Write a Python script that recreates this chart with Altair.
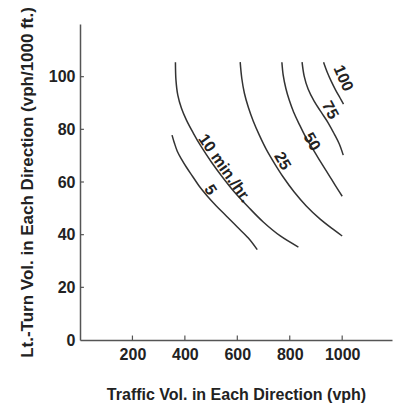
import altair as alt
import pandas as pd

# Curve values (traffic volume vph, left-turn volume vph/1000 ft)
c5_x = [351, 360, 371, 387, 406, 429, 455, 486, 520, 558, 600, 642, 676]
c5_y = [77.8, 74.8, 71.7, 68.7, 65.6, 62.2, 58.4, 54.6, 50.9, 47.1, 42.9, 38.7, 34.3]
c10_x = [364, 366, 373, 387, 406, 432, 463, 501, 543, 588, 642, 699, 764, 833]
c10_y = [105.5, 98.7, 93, 88, 83.5, 78.6, 73.3, 67.6, 61.9, 56.3, 50.5, 44.8, 39.5, 35.3]
c25_x = [611, 617, 627, 642, 661, 684, 710, 741, 775, 817, 863, 916, 970, 1000]
c25_y = [105.5, 99.4, 93.7, 88.4, 83.1, 77.8, 72.5, 67.2, 61.9, 56.2, 50.9, 45.9, 41.7, 39.5]
c50_x = [770, 775, 785, 798, 815, 836, 859, 886, 916, 947, 973, 1000]
c50_y = [105.5, 100.6, 95.6, 91.1, 86.5, 82, 77.4, 72.9, 67.9, 63, 58.8, 54.6]
c75_x = [847, 855, 870, 893, 920, 947, 970, 989, 1004]
c75_y = [105.5, 100.2, 95.3, 90.7, 86.5, 82.4, 78.2, 74.4, 70.2]
c100_x = [929, 943, 958, 975, 992, 1005]
c100_y = [105.5, 101.7, 98.3, 94.9, 91.9, 89.6]

labels = ["5", "10 min./hr.", "25", "50", "75", "100"]
label_x = [497, 551, 772, 884, 954, 1004]
label_y = [57, 65.2, 68, 75.3, 87.3, 99.4]
label_angle = [58, 55, 60, 60, 62, 66]

x_ticks = [200, 400, 600, 800, 1000]
y_ticks = [0, 20, 40, 60, 80, 100]

rows = []
for name, xs, ys in [("5", c5_x, c5_y), ("10", c10_x, c10_y), ("25", c25_x, c25_y),
                     ("50", c50_x, c50_y), ("75", c75_x, c75_y), ("100", c100_x, c100_y)]:
    for i, (a, b) in enumerate(zip(xs, ys)):
        rows.append({"curve": name, "x": a, "y": b, "i": i})
df = pd.DataFrame(rows)
lab = pd.DataFrame({"t": labels, "x": label_x, "y": label_y, "a": label_angle})

FONT = "Liberation Sans"
xs = alt.Scale(domain=[0, 1190], nice=False, zero=False)
ys = alt.Scale(domain=[0, 120], nice=False, zero=False)

xaxis = alt.Axis(values=x_ticks, format="d", title="Traffic Vol. in Each Direction (vph)", grid=False,
                 tickSize=0, labelPadding=6, titlePadding=24,
                 labelFont=FONT, labelFontSize=16, labelFontWeight="bold", labelColor="#222",
                 titleFont=FONT, titleFontSize=16, titleFontWeight="bold", titleColor="#222",
                 domainColor="#555", domainWidth=1.5)
yaxis = alt.Axis(values=y_ticks, format="d", title="Lt.-Turn Vol. in Each Direction (vph/1000 ft.)", grid=False,
                 tickSize=0, labelPadding=5, titlePadding=12,
                 labelFont=FONT, labelFontSize=16, labelFontWeight="bold", labelColor="#222",
                 titleFont=FONT, titleFontSize=17, titleFontWeight="bold", titleColor="#222",
                 domainColor="#555", domainWidth=1.5)

lines = alt.Chart(df).mark_line(color="#333", strokeWidth=1.5, interpolate="catmull-rom").encode(
    x=alt.X("x:Q", scale=xs, axis=xaxis),
    y=alt.Y("y:Q", scale=ys, axis=yaxis),
    detail="curve:N",
    order="i:Q",
)

text = alt.Chart(lab).mark_text(font=FONT, fontSize=16, fontWeight="bold", color="#222",
                                align="center", baseline="middle").encode(
    x=alt.X("x:Q", scale=xs), y=alt.Y("y:Q", scale=ys), text="t:N",
    angle=alt.Angle("a:Q", scale=None))

xt = pd.DataFrame({"x": x_ticks, "y0": [0] * 5, "y1": [1.7] * 5})
xtick = alt.Chart(xt).mark_rule(color="#555", strokeWidth=1.2).encode(
    x=alt.X("x:Q", scale=xs), y=alt.Y("y0:Q", scale=ys), y2="y1:Q")
yt = pd.DataFrame({"y": y_ticks[1:], "x0": [0] * 5, "x1": [15] * 5})
ytick = alt.Chart(yt).mark_rule(color="#555", strokeWidth=1.2).encode(
    y=alt.Y("y:Q", scale=ys), x=alt.X("x0:Q", scale=xs), x2="x1:Q")

chart = alt.layer(lines, xtick, ytick, text).properties(
    width=312, height=316,
    autosize=alt.AutoSizeParams(type="none"),
    padding={"left": 80, "top": 24, "right": 2, "bottom": 65},
    background="white",
).configure_view(stroke=None)

chart.save("out.html", embed_options={"renderer": "svg", "actions": False})
